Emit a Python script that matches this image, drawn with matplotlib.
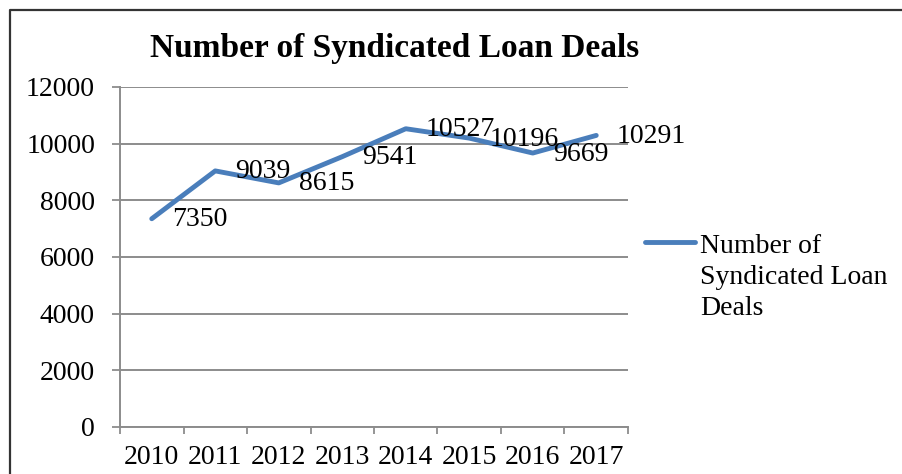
import matplotlib.pyplot as plt
import numpy as np
from matplotlib.lines import Line2D
from matplotlib.ticker import FixedLocator, NullFormatter

years = ['2010', '2011', '2012', '2013', '2014', '2015', '2016', '2017']
deals = [7350, 9039, 8615, 9541, 10527, 10196, 9669, 10291]
series_name = 'Number of Syndicated Loan Deals'
legend_lines = ['Number of', 'Syndicated Loan', 'Deals']

plt.rcParams['font.family'] = ['Liberation Serif', 'DejaVu Serif']

W, H = 903, 474
fig = plt.figure(figsize=(W / 100, H / 100), dpi=100)

# plot area in pixel coordinates
left, right, top, bottom = 120, 628, 87, 427
ax = fig.add_axes([left / W, (H - bottom) / H, (right - left) / W, (bottom - top) / H])

blue = '#4A7EBB'
grid_col = '#8C8C8C'
fs = 20

x = np.arange(len(years))
ax.plot(x, deals, color=blue, lw=3.5, solid_capstyle='round', solid_joinstyle='round', zorder=3)

for xi, v in zip(x, deals):
    ax.annotate(str(v), (xi, v), xytext=(20, -1), textcoords='offset pixels',
                ha='left', va='center', fontsize=fs, color='black', zorder=4)

ax.set_xlim(-0.5, len(years) - 0.5)
ax.set_ylim(0, 12000)
ax.set_yticks(np.arange(0, 12001, 2000))
ax.yaxis.grid(True, color=grid_col, lw=1.4)
ax.set_axisbelow(True)

# category boundaries carry the tick marks, centres carry the labels
ax.xaxis.set_major_locator(FixedLocator(np.arange(-0.5, len(years), 1.0)))
ax.xaxis.set_major_formatter(NullFormatter())
ax.xaxis.set_minor_locator(FixedLocator(x))
ax.set_xticklabels(years, minor=True)
ax.tick_params(axis='x', which='major', length=5, width=1.3, color=grid_col, direction='out')
ax.tick_params(axis='x', which='minor', length=0, pad=13, labelsize=fs)
ax.tick_params(axis='y', length=6, width=1.3, color=grid_col, pad=12, labelsize=fs)

for s in ['top', 'right']:
    ax.spines[s].set_visible(False)
for s in ['left', 'bottom']:
    ax.spines[s].set_color(grid_col)
    ax.spines[s].set_linewidth(1.4)

fig.text(395 / W, 1 - 48 / H, series_name, ha='center', va='center',
         fontsize=24, fontweight='bold')

# legend key, text wraps onto three lines beside it
fig.add_artist(Line2D([645 / W, 695 / W], [1 - 242 / H, 1 - 242 / H],
                      color=blue, lw=3.5, solid_capstyle='round'))
for i, line in enumerate(legend_lines):
    fig.text(700 / W, 1 - (253 + 31 * i) / H, line, ha='left', va='baseline', fontsize=fs)

# outer chart border
fig.add_artist(Line2D([10 / W, 10 / W, 1.0], [0.0, 1 - 9.5 / H, 1 - 9.5 / H],
                      color='#333333', lw=1.6))

fig.savefig('out.png', dpi=100)
